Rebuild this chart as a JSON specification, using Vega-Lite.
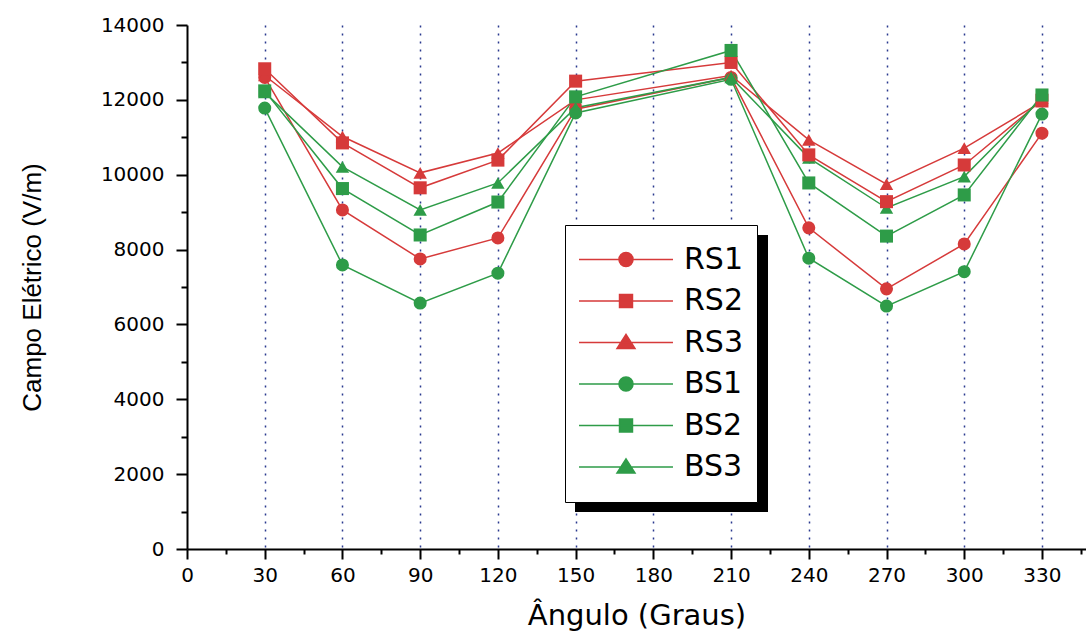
{
  "$schema": "https://vega.github.io/schema/vega-lite/v6.json",
  "width": 899,
  "height": 524,
  "autosize": {"type": "none"},
  "padding": {"left": 187, "top": 25, "right": 0, "bottom": 86},
  "background": "white",
  "config": {"view": {"stroke": null}, "font": "DejaVu Sans"},
  "data": {"values": [
    {"serie": "RS1", "angulo": 30, "campo": 12600}, {"serie": "RS1", "angulo": 60, "campo": 9060}, {"serie": "RS1", "angulo": 90, "campo": 7750}, {"serie": "RS1", "angulo": 120, "campo": 8310}, {"serie": "RS1", "angulo": 150, "campo": 11750}, {"serie": "RS1", "angulo": 210, "campo": 12600}, {"serie": "RS1", "angulo": 240, "campo": 8580}, {"serie": "RS1", "angulo": 270, "campo": 6950}, {"serie": "RS1", "angulo": 300, "campo": 8150}, {"serie": "RS1", "angulo": 330, "campo": 11110},
    {"serie": "RS2", "angulo": 30, "campo": 12830}, {"serie": "RS2", "angulo": 60, "campo": 10850}, {"serie": "RS2", "angulo": 90, "campo": 9650}, {"serie": "RS2", "angulo": 120, "campo": 10390}, {"serie": "RS2", "angulo": 150, "campo": 12500}, {"serie": "RS2", "angulo": 210, "campo": 13000}, {"serie": "RS2", "angulo": 240, "campo": 10530}, {"serie": "RS2", "angulo": 270, "campo": 9280}, {"serie": "RS2", "angulo": 300, "campo": 10260}, {"serie": "RS2", "angulo": 330, "campo": 11990},
    {"serie": "RS3", "angulo": 30, "campo": 12650}, {"serie": "RS3", "angulo": 60, "campo": 11020}, {"serie": "RS3", "angulo": 90, "campo": 10050}, {"serie": "RS3", "angulo": 120, "campo": 10580}, {"serie": "RS3", "angulo": 150, "campo": 12000}, {"serie": "RS3", "angulo": 210, "campo": 12650}, {"serie": "RS3", "angulo": 240, "campo": 10930}, {"serie": "RS3", "angulo": 270, "campo": 9750}, {"serie": "RS3", "angulo": 300, "campo": 10710}, {"serie": "RS3", "angulo": 330, "campo": 11950},
    {"serie": "BS1", "angulo": 30, "campo": 11780}, {"serie": "BS1", "angulo": 60, "campo": 7590}, {"serie": "BS1", "angulo": 90, "campo": 6570}, {"serie": "BS1", "angulo": 120, "campo": 7370}, {"serie": "BS1", "angulo": 150, "campo": 11650}, {"serie": "BS1", "angulo": 210, "campo": 12550}, {"serie": "BS1", "angulo": 240, "campo": 7770}, {"serie": "BS1", "angulo": 270, "campo": 6490}, {"serie": "BS1", "angulo": 300, "campo": 7410}, {"serie": "BS1", "angulo": 330, "campo": 11620},
    {"serie": "BS2", "angulo": 30, "campo": 12240}, {"serie": "BS2", "angulo": 60, "campo": 9630}, {"serie": "BS2", "angulo": 90, "campo": 8390}, {"serie": "BS2", "angulo": 120, "campo": 9270}, {"serie": "BS2", "angulo": 150, "campo": 12080}, {"serie": "BS2", "angulo": 210, "campo": 13320}, {"serie": "BS2", "angulo": 240, "campo": 9780}, {"serie": "BS2", "angulo": 270, "campo": 8360}, {"serie": "BS2", "angulo": 300, "campo": 9460}, {"serie": "BS2", "angulo": 330, "campo": 12130},
    {"serie": "BS3", "angulo": 30, "campo": 12200}, {"serie": "BS3", "angulo": 60, "campo": 10210}, {"serie": "BS3", "angulo": 90, "campo": 9060}, {"serie": "BS3", "angulo": 120, "campo": 9780}, {"serie": "BS3", "angulo": 150, "campo": 11790}, {"serie": "BS3", "angulo": 210, "campo": 12600}, {"serie": "BS3", "angulo": 240, "campo": 10450}, {"serie": "BS3", "angulo": 270, "campo": 9110}, {"serie": "BS3", "angulo": 300, "campo": 9950}, {"serie": "BS3", "angulo": 330, "campo": 12050}
  ]},
  "encoding": {
    "x": {
      "field": "angulo", "type": "quantitative",
      "scale": {"domain": [0, 347], "nice": false, "zero": false},
      "axis": {
        "values": [0, 15, 30, 45, 60, 75, 90, 105, 120, 135, 150, 165, 180, 195, 210, 225, 240, 255, 270, 285, 300, 315, 330, 345],
        "format": "d",
        "labelExpr": "datum.value % 30 === 0 ? datum.label : ''",
        "tickSize": {"condition": {"test": "datum.value % 30 === 0", "value": 10}, "value": 5},
        "tickWidth": 2, "tickColor": "black",
        "domainColor": "black", "domainWidth": 2,
        "grid": true,
        "gridColor": "#2b3a8f", "gridDash": [2, 6], "gridWidth": 1.5,
        "gridOpacity": {"condition": {"test": "datum.value % 30 === 0 && datum.value > 0", "value": 1}, "value": 0},
        "labelFont": "DejaVu Sans", "labelFontSize": 20, "labelColor": "black", "labelPadding": 6,
        "labelFlush": false, "labelOverlap": false,
        "title": "Ângulo (Graus)", "titleFont": "DejaVu Sans", "titleFontSize": 29, "titleFontWeight": "normal", "titleColor": "black", "titlePadding": 16
      }
    },
    "y": {
      "field": "campo", "type": "quantitative",
      "scale": {"domain": [0, 14000], "nice": false},
      "axis": {
        "values": [0, 1000, 2000, 3000, 4000, 5000, 6000, 7000, 8000, 9000, 10000, 11000, 12000, 13000, 14000],
        "format": "d",
        "labelExpr": "datum.value % 2000 === 0 ? datum.label : ''",
        "tickSize": {"condition": {"test": "datum.value % 2000 === 0", "value": 11}, "value": 6},
        "tickWidth": 2, "tickColor": "black",
        "domainColor": "black", "domainWidth": 2,
        "grid": false,
        "labelFont": "DejaVu Sans", "labelFontSize": 20, "labelColor": "black", "labelPadding": 12,
        "labelFlush": false, "labelOverlap": false,
        "title": "Campo Elétrico (V/m)", "titleFont": "Liberation Sans", "titleFontSize": 26, "titleFontWeight": "normal", "titleColor": "black", "titlePadding": 55
      }
    },
    "color": {
      "field": "serie", "type": "nominal",
      "scale": {"domain": ["RS1", "RS2", "RS3", "BS1", "BS2", "BS3"], "range": ["#d63a3a", "#d63a3a", "#d63a3a", "#2e9c48", "#2e9c48", "#2e9c48"]},
      "legend": {
        "title": null, "orient": "none", "legendX": 378, "legendY": 200, "zindex": 2,
        "fillColor": "white", "strokeColor": "black", "padding": 14,
        "symbolSize": 1296, "symbolStrokeWidth": 1.5, "symbolOpacity": 1, "symbolOffset": 28, "labelOffset": 39, "rowPadding": 0.5, "clipHeight": 41,
        "labelFont": "DejaVu Sans", "labelFontSize": 30, "labelColor": "black"
      }
    }
  },
  "layer": [
    {"mark": {"type": "line", "strokeWidth": 1.5}},
    {
      "mark": {"type": "point", "filled": true, "opacity": 0, "size": 1},
      "encoding": {
        "shape": {
          "field": "serie", "type": "nominal",
          "scale": {"domain": ["RS1", "RS2", "RS3", "BS1", "BS2", "BS3"], "range": [
            "M-2.61,0L2.61,0M-0.39,0A0.39,0.39,0,1,0,0.39,0A0.39,0.39,0,1,0,-0.39,0Z",
            "M-2.61,0L2.61,0M-0.36,-0.36L0.36,-0.36L0.36,0.36L-0.36,0.36Z",
            "M-2.61,0L2.61,0M0,-0.45L0.5,0.33L-0.5,0.33Z",
            "M-2.61,0L2.61,0M-0.39,0A0.39,0.39,0,1,0,0.39,0A0.39,0.39,0,1,0,-0.39,0Z",
            "M-2.61,0L2.61,0M-0.36,-0.36L0.36,-0.36L0.36,0.36L-0.36,0.36Z",
            "M-2.61,0L2.61,0M0,-0.45L0.5,0.33L-0.5,0.33Z"
          ]},
          "legend": {
            "title": null, "orient": "none", "legendX": 378, "legendY": 200, "zindex": 2,
            "fillColor": "white", "strokeColor": "black", "padding": 14,
            "symbolSize": 1296, "symbolStrokeWidth": 1.5, "symbolOpacity": 1, "symbolOffset": 28, "labelOffset": 39, "rowPadding": 0.5, "clipHeight": 41,
            "labelFont": "DejaVu Sans", "labelFontSize": 30, "labelColor": "black"
          }
        }
      }
    },
    {
      "transform": [{"filter": {"field": "serie", "oneOf": ["RS1", "BS1"]}}],
      "mark": {"type": "point", "filled": true, "opacity": 1, "size": 170, "shape": "circle"}
    },
    {
      "transform": [{"filter": {"field": "serie", "oneOf": ["RS3", "BS3"]}}],
      "mark": {"type": "point", "filled": true, "opacity": 1, "size": 180, "shape": "triangle-up"}
    },
    {
      "transform": [{"filter": {"field": "serie", "oneOf": ["RS2", "BS2"]}}],
      "mark": {"type": "point", "filled": true, "opacity": 1, "size": 170, "shape": "square"}
    },
    {
      "mark": {"type": "point", "opacity": 0},
      "encoding": {
        "fill": {
          "field": "campo", "type": "quantitative",
          "scale": {"range": ["black", "black"]},
          "legend": {
            "title": null, "orient": "none", "legendX": 388, "legendY": 210, "zindex": 1,
            "direction": "vertical", "gradientLength": 277, "gradientThickness": 193,
            "labelOpacity": 0, "labelExpr": "''", "padding": 0, "gradientStrokeColor": "black", "gradientStrokeWidth": 0,
            "encode": {"gradient": {"update": {"opacity": {"value": 1}}}}
          }
        }
      }
    }
  ]
}
